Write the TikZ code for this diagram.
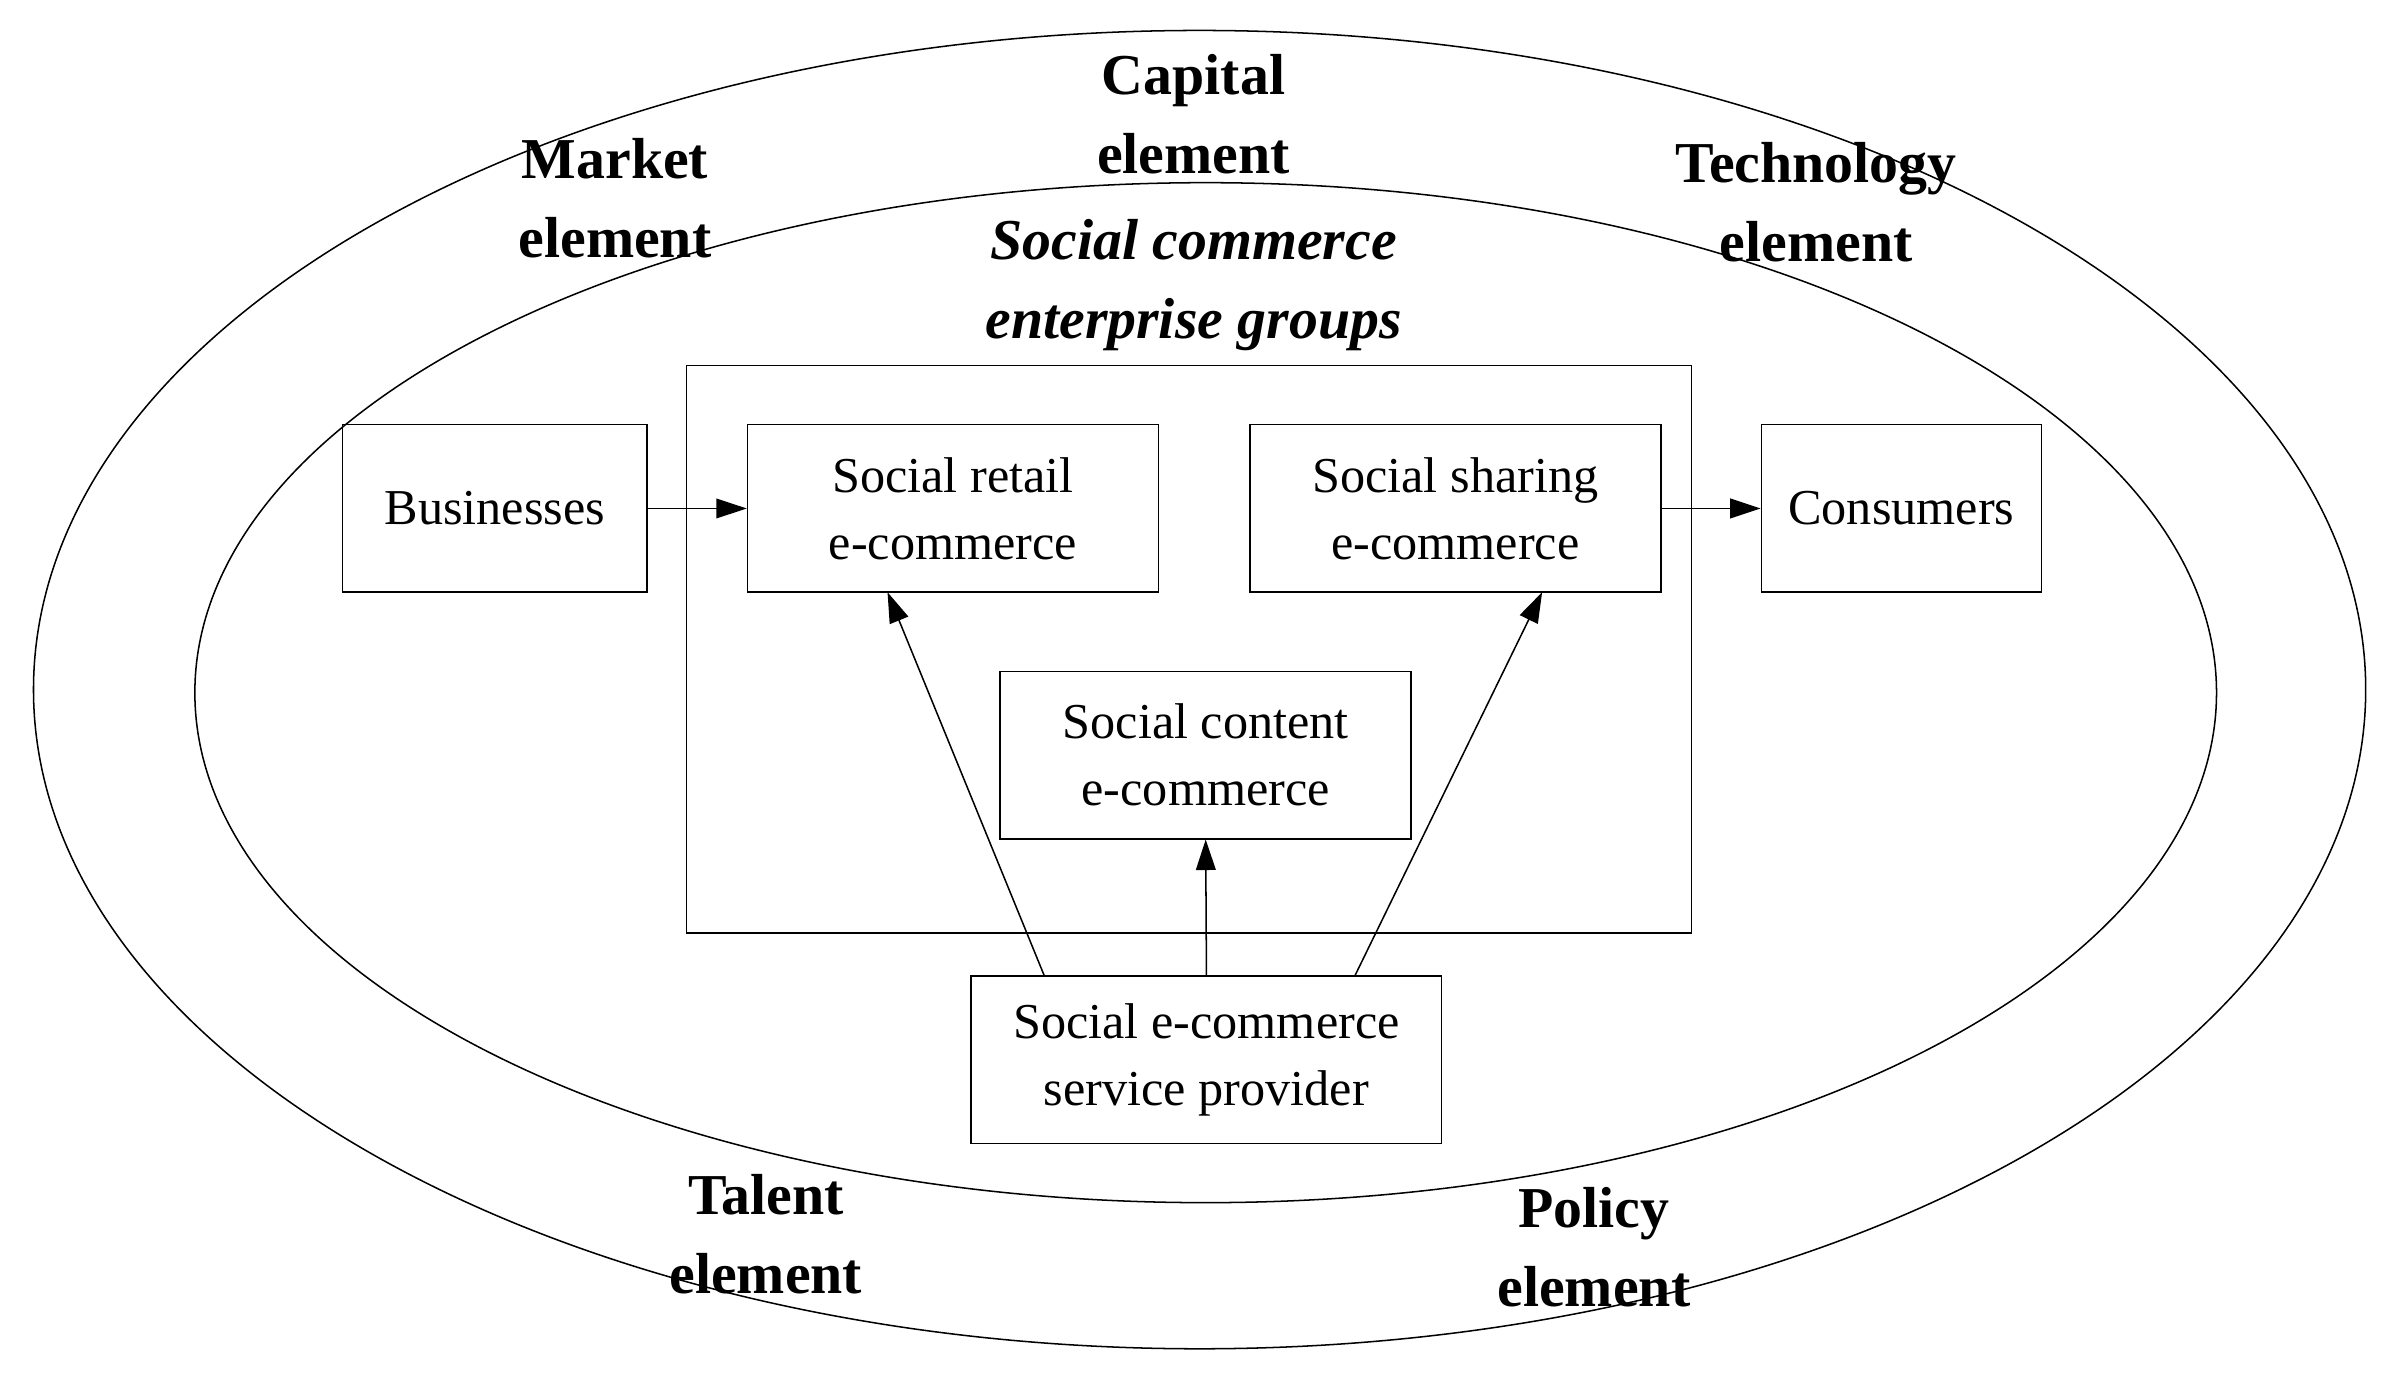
\documentclass[tikz,border=0pt]{standalone}
\usepackage{fontspec}
\setmainfont{Liberation Serif}
\usetikzlibrary{arrows.meta}
\begin{document}
\begin{tikzpicture}[x=1pt,y=-1pt,line width=1pt,
  box/.style={draw,minimum width=#1,minimum height=110pt,inner sep=0pt,align=center,font=\fontsize{33}{44}\selectfont},
  lbl/.style={align=center,font=\fontsize{38}{52}\selectfont\bfseries},
  arr/.style={-{Triangle[length=20pt,width=13pt]}}]
\useasboundingbox (0,0) rectangle (1568,910);
\draw (788,453) ellipse [x radius=766pt,y radius=433pt];
\draw (792,455) ellipse [x radius=664pt,y radius=335pt];
\draw (451,240) rectangle (1111,613);
\node[box=200pt] (bus) at (325,334) {Businesses};
\node[box=270pt] (ret) at (626,334) {Social retail\\e-commerce};
\node[box=270pt] (sha) at (956,334) {Social sharing\\e-commerce};
\node[box=184pt] (con) at (1249,334) {Consumers};
\node[box=270pt] (cnt) at (792,496) {Social content\\e-commerce};
\node[box=309pt] (pro) at (792.5,696) {Social e-commerce\\service provider};
\draw[arr] (bus.east) -- (ret.west);
\draw[arr] (sha.east) -- (con.west);
\coordinate (p1) at (686,641); \coordinate (q1) at (583,389);
\coordinate (p3) at (890,641); \coordinate (q3) at (1013,389);
\draw[arr] (p1) -- (q1);
\draw[arr] (pro.north) -- (cnt.south);
\draw[arr] (p3) -- (q3);
\node[lbl] (cap) at (784,75) {Capital\\element};
\node[lbl] (mkt) at (404,130) {Market\\element};
\node[lbl] (tec) at (1193,133) {Technology\\element};
\node[lbl,font=\fontsize{38}{52}\selectfont\bfseries\itshape] (grp) at (784,187) {Social commerce\\enterprise groups};
\node[lbl] (tal) at (503,811) {Talent\\element};
\node[lbl] (pol) at (1047,819) {Policy\\element};
\end{tikzpicture}
\end{document}
